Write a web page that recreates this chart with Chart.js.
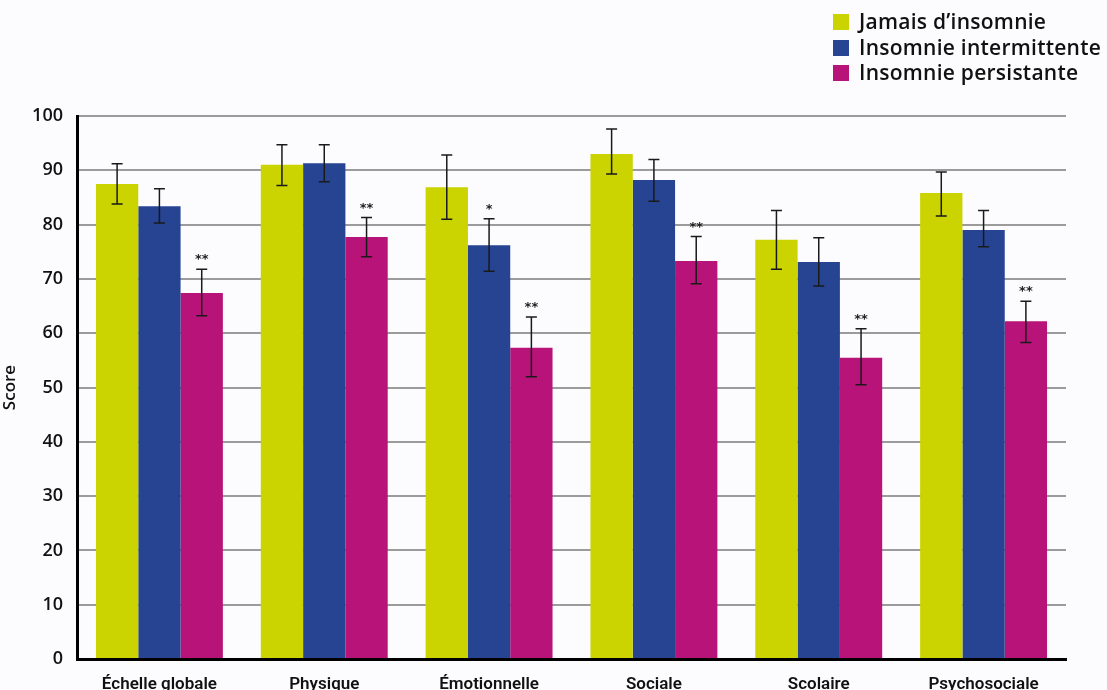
<!DOCTYPE html>
<html>
<head>
<meta charset="utf-8">
<script src="https://cdn.jsdelivr.net/npm/chart.js@4.4.1/dist/chart.umd.min.js"></script>
<style>
  html, body { margin: 0; padding: 0; background: #fcfcfe; }
  .wrap { position: relative; width: 1107px; height: 690px; }
  canvas { position: absolute; left: 0; top: 0; }
  .legend { position: absolute; left: 833px; top: 9px; font-family: 'Open Sans', sans-serif; font-size: 21px; letter-spacing: 0.25px; color: #111; font-weight: 600; }
  .legend div { height: 25.5px; line-height: 25.5px; white-space: nowrap; }
  .legend span { display: inline-block; width: 16px; height: 16px; margin-right: 10px; vertical-align: -1px; }
</style>
</head>
<body>
<div class="wrap">
  <canvas id="chart" width="1107" height="690"></canvas>
  <div class="legend" id="legend"></div>
</div>
<script>
const categories = ['Échelle globale', 'Physique', 'Émotionnelle', 'Sociale', 'Scolaire', 'Psychosociale'];
const seriesNames = ["Jamais d’insomnie", 'Insomnie intermittente', 'Insomnie persistante'];
const colors = ['#cbd300', '#274493', '#b81379'];

const jamais = [87.5, 91.0, 86.9, 93.0, 77.2, 85.8];
const intermittente = [83.4, 91.3, 76.2, 88.2, 73.1, 79.0];
const persistante = [67.4, 77.7, 57.3, 73.3, 55.5, 62.2];

// error bars: [low, high]
const jamaisErr = [[83.8, 91.2], [87.2, 94.7], [81.0, 92.8], [89.3, 97.6], [71.8, 82.6], [81.6, 89.7]];
const intermittenteErr = [[80.3, 86.6], [87.9, 94.7], [71.4, 81.1], [84.3, 92.0], [68.7, 77.6], [75.9, 82.6]];
const persistanteErr = [[63.2, 71.8], [74.1, 81.3], [52.0, 63.0], [69.1, 77.8], [50.5, 60.8], [58.3, 65.9]];

const intermittenteStars = ['', '', '*', '', '', ''];
const persistanteStars = ['**', '**', '**', '**', '**', '**'];

const yTicks = [0, 10, 20, 30, 40, 50, 60, 70, 80, 90, 100];

const errors = [jamaisErr, intermittenteErr, persistanteErr];
const stars = [null, intermittenteStars, persistanteStars];

const errorBars = {
    id: 'errorBars',
    afterDatasetsDraw(chart) {
        const c = chart.ctx;
        const y = chart.scales.y;
        c.save();
        chart.data.datasets.forEach((ds, i) => {
            const meta = chart.getDatasetMeta(i);
            meta.data.forEach((bar, j) => {
                const [lo, hi] = errors[i][j];
                const x = bar.x;
                const yLo = y.getPixelForValue(lo);
                const yHi = y.getPixelForValue(hi);
                c.strokeStyle = '#1a1a1a';
                c.lineWidth = 1.5;
                c.beginPath();
                c.moveTo(x, yLo); c.lineTo(x, yHi);
                c.moveTo(x - 5.5, yLo); c.lineTo(x + 5.5, yLo);
                c.moveTo(x - 5.5, yHi); c.lineTo(x + 5.5, yHi);
                c.stroke();
                if (stars[i] && stars[i][j]) {
                    c.fillStyle = '#222';
                    c.font = 'bold 13px "DejaVu Sans", sans-serif';
                    c.textAlign = 'center';
                    c.textBaseline = 'alphabetic';
                    c.fillText(stars[i][j], x, yHi - 6);
                }
            });
        });
        c.restore();
    }
};

new Chart(document.getElementById('chart'), {
    type: 'bar',
    data: {
        labels: categories,
        datasets: [
            { label: seriesNames[0], data: jamais, backgroundColor: colors[0] },
            { label: seriesNames[1], data: intermittente, backgroundColor: colors[1] },
            { label: seriesNames[2], data: persistante, backgroundColor: colors[2] }
        ]
    },
    options: {
        responsive: false,
        animation: false,
        categoryPercentage: 0.77,
        barPercentage: 1.0,
        layout: { padding: { top: 116, right: 41, bottom: 0, left: 0 } },
        plugins: {
            legend: { display: false },
            tooltip: { enabled: false }
        },
        scales: {
            x: {
                grid: { display: false },
                border: { color: '#000', width: 3 },
                ticks: {
                    color: '#111',
                    padding: 8,
                    font: { family: "'Liberation Sans Narrow', 'Roboto', sans-serif", size: 17, weight: '600' }
                },
                afterFit(scale) { scale.height = 31; }
            },
            y: {
                min: 0,
                max: 100,
                afterBuildTicks(scale) { scale.ticks = yTicks.map(v => ({ value: v })); },
                grid: { color: '#9b9b9b', lineWidth: 2, drawTicks: false },
                border: { color: '#000', width: 3 },
                ticks: {
                    color: '#111',
                    padding: 14,
                    font: { family: "'Open Sans', sans-serif", size: 18, weight: '600' }
                },
                title: {
                    display: true,
                    text: 'Score',
                    color: '#111',
                    padding: { top: 0, bottom: 2 },
                    font: { family: "'Open Sans', sans-serif", size: 17, weight: '600' }
                },
                afterFit(scale) { scale.width = 77; }
            }
        }
    },
    plugins: [errorBars]
});

const legendBox = document.getElementById('legend');
seriesNames.forEach((name, i) => {
    const row = document.createElement('div');
    row.innerHTML = `<span style="background:${colors[i]}"></span>${name}`;
    legendBox.appendChild(row);
});
</script>
</body>
</html>
